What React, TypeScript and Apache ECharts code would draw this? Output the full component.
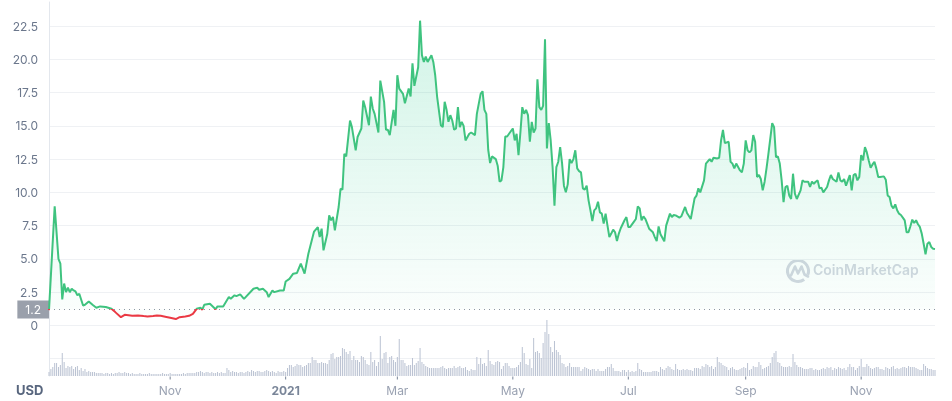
import React, { useEffect, useRef } from "react";
import * as echarts from "echarts";

// ---------- data ----------
const START_DATE = "2020-08-29";
const END_DAY = 468;
const BASELINE = 1.2;
const currencyLabel = "USD";
const watermarkText = "CoinMarketCap";

const tickDates = ["2020-11-01", "2021-01-01", "2021-03-01", "2021-05-01", "2021-07-01", "2021-09-01", "2021-11-01"];
const tickLabels = ["Nov", "2021", "Mar", "May", "Jul", "Sep", "Nov"];

// day offsets from START_DATE and price (USD)
const priceDays = [
  0, 3, 5, 6, 7, 8, 9, 10, 11, 12, 13, 14, 15, 16, 18, 19, 21, 23, 25, 27, 30, 33, 35, 38, 40, 44, 47, 50, 52, 55, 57, 59, 62, 64, 67, 69, 72, 74, 76, 78, 80, 81, 82, 85, 88, 89, 92, 95, 96, 98, 99,
  101, 103, 108, 110, 111, 113, 115, 116, 118, 119, 122, 124, 125, 127, 129, 131, 133, 135, 137, 140, 142, 143, 144, 145, 147, 148, 149, 150, 151, 153, 154, 155, 156, 157, 158, 159, 160, 162, 163, 165, 166, 167, 169, 170, 171, 172, 174, 175, 177, 178, 179, 180, 182, 183, 184, 185, 187, 188, 190, 191, 192, 193, 195, 196, 197, 198, 199,
  200, 202, 203, 204, 205, 207, 208, 209, 210, 211, 212, 213, 214, 215, 216, 217, 218, 219, 220, 222, 223, 225, 226, 228, 229, 230, 231, 232, 233, 234, 236, 237, 238, 239, 240, 241, 242, 243, 245, 246, 247, 248, 249, 250, 251, 252, 253, 254, 255, 256, 257, 258, 259, 260, 261, 262, 263, 264, 265, 266, 267, 268, 269, 270, 271, 272, 273, 274, 275, 276, 277, 278, 279, 280, 281, 282, 283, 284, 285, 286, 287, 288, 289, 290, 291, 292, 293, 294, 295, 296, 297, 298, 299,
  300, 301, 302, 304, 305, 306, 307, 309, 310, 311, 312, 313, 314, 315, 317, 319, 320, 321, 322, 323, 325, 326, 328, 329, 330, 331, 333, 334, 336, 337, 339, 341, 342, 343, 344, 346, 347, 349, 350, 351, 353, 354, 355, 356, 357, 359, 360, 361, 362, 363, 365, 366, 367, 368, 369, 370, 371, 372, 373, 374, 375, 376, 377, 378, 379, 380, 382, 383, 384, 385, 386, 387, 388, 389, 390, 391, 392, 393, 394, 395, 397, 398, 399,
  401, 402, 403, 404, 405, 406, 407, 408, 409, 411, 412, 413, 414, 416, 417, 418, 419, 420, 421, 423, 424, 425, 426, 427, 428, 429, 430, 431, 432, 433, 434, 435, 436, 437, 438, 439, 441, 442, 443, 444, 445, 446, 447, 448, 449, 450, 451, 452, 453, 454, 455, 456, 457, 458, 459, 460, 461, 462, 463, 464, 465, 466, 467, 468,
];
const priceValues = [
  1.15, 8.95, 5.0, 4.65, 1.95, 3.15, 2.5, 2.83, 2.5, 2.75, 2.63, 2.55, 2.26, 2.38, 1.5, 1.55, 1.8, 1.55, 1.33, 1.43, 1.38, 1.25, 1.0, 0.62, 0.8, 0.72, 0.75, 0.7, 0.68, 0.7, 0.74, 0.72, 0.64, 0.58, 0.48, 0.62, 0.67, 0.72, 0.87, 1.25, 1.33, 1.18, 1.55, 1.63, 1.22, 1.43, 1.43, 2.13, 2.0, 2.26, 2.2,
  2.33, 2.0, 2.76, 2.83, 2.68, 2.76, 2.5, 2.13, 2.63, 2.5, 2.63, 2.63, 3.3, 3.5, 3.89, 3.94, 4.64, 3.89, 5.39, 7.05, 7.39, 6.64, 7.27, 5.64, 6.89, 8.27, 7.9, 8.15, 7.14, 8.9, 10.27, 10.2, 12.9, 12.7, 14.04, 15.4, 14.9, 13.16, 14.16, 14.8, 16.9, 16.4, 15.04, 17.2, 16.3, 15.9, 14.5, 18.4, 16.8, 14.7, 14.7, 14.3, 16.2, 15.0, 18.8, 17.8, 17.4, 16.7, 17.8, 17.2, 19.7, 18.0, 19.4, 22.9, 20.3, 19.8, 20.2,
  19.8, 20.3, 19.8, 18.8, 17.2, 15.04, 14.9, 16.8, 16.2, 15.3, 15.8, 15.4, 14.7, 14.8, 16.4, 14.9, 15.3, 15.0, 13.9, 14.4, 14.5, 14.3, 15.9, 17.4, 17.6, 16.2, 15.9, 13.2, 12.2, 12.7, 12.5, 12.0, 10.8, 10.9, 11.9, 14.2, 14.2, 14.4, 14.8, 13.9, 14.4, 12.8, 14.5, 16.4, 15.9, 16.2, 15.8, 13.8, 15.3, 14.5, 14.8, 18.5, 16.4, 16.2, 16.5, 21.5, 13.3, 15.2, 13.9, 11.9, 9.0, 11.9, 12.3, 13.4, 12.2, 10.5, 10.0, 10.6, 12.5, 12.2, 12.5, 13.16, 11.8, 11.6, 11.5, 10.3, 10.2, 10.5, 9.4, 8.65, 7.84, 8.65, 8.8, 9.3, 8.5, 8.4, 7.65, 8.4, 7.5, 6.64, 6.9, 7.2, 7.0,
  6.34, 6.9, 7.3, 7.9, 8.14, 7.4, 7.4, 7.8, 8.0, 8.95, 8.8, 7.9, 8.2, 8.0, 7.27, 7.0, 6.64, 6.34, 7.44, 6.85, 6.32, 7.5, 8.4, 8.15, 8.3, 8.27, 8.1, 8.2, 8.9, 8.45, 8.0, 9.55, 9.75, 10.3, 10.0, 10.9, 12.16, 12.5, 12.3, 12.6, 12.55, 12.6, 13.9, 14.7, 13.7, 13.8, 12.3, 12.16, 11.8, 12.16, 11.65, 11.5, 12.16, 13.9, 13.16, 13.0, 13.16, 14.3, 13.8, 11.15, 11.3, 11.0, 10.15, 10.8, 11.8, 12.9, 15.2, 14.9, 12.65, 12.7, 12.16, 10.9, 9.27, 10.4, 10.5, 9.77, 9.5, 11.4, 9.9, 9.5, 10.15, 10.9, 10.8,
  10.8, 10.4, 10.8, 10.65, 10.8, 10.9, 10.3, 10.35, 10.0, 10.4, 10.9, 11.3, 11.0, 10.8, 11.5, 10.9, 10.8, 11.0, 10.5, 11.3, 10.15, 11.3, 11.4, 10.9, 11.15, 12.8, 12.4, 13.4, 13.0, 12.4, 11.85, 12.1, 12.3, 11.8, 11.15, 11.15, 11.2, 10.95, 9.77, 9.65, 9.0, 8.8, 9.1, 8.65, 8.4, 8.3, 8.1, 7.9, 7.0, 7.0, 7.45, 7.95, 7.7, 7.9, 7.6, 7.4, 6.9, 6.14, 5.34, 6.14, 6.26, 5.9, 5.77, 5.75,
];

// daily volume (relative units), one per day from START_DATE
const volumeValues = [
  4, 7, 9, 13, 13, 9, 11, 23, 14, 8, 10, 9, 10, 7, 9, 10, 6, 8, 5, 7, 4, 5, 4, 4, 4, 3, 3,
  3, 3, 2, 3, 3, 2, 3, 2, 3, 3, 4, 3, 3, 4, 3, 3, 2, 3, 2, 2, 2, 3, 2, 2, 2, 2, 3, 2, 2, 2, 2, 2, 2, 3, 2, 2, 2, 3,
  2, 2, 2, 2, 2, 2, 3, 2, 3, 3, 3, 3,
  3, 4, 4, 5, 4, 3, 4, 4, 3, 4, 3, 3, 4, 3, 4, 3, 3, 8, 6,
  4, 5, 4, 4, 3, 4, 4, 3, 4, 5, 4, 6, 5, 4, 5, 5, 4, 4, 5, 6, 5, 4, 5, 4, 3, 5, 4, 4, 5, 4,
  8, 11, 11, 9, 10, 12, 11,
  11, 9, 10, 11, 13, 13, 19, 16, 16, 13,
  13, 14, 13, 13, 12, 16, 22, 23, 17, 19,
  19, 20, 28, 27, 24, 22, 25, 16, 20, 16,
  16, 14, 20, 19, 16, 12, 11, 24, 14, 16,
  10, 14, 40, 17, 23, 24, 13, 19, 20, 16,
  14, 19, 37, 16, 16, 13, 10, 11, 11, 18,
  11, 13, 15, 28, 14, 12, 10, 9, 8, 8,
  8, 8, 8, 8, 9, 10, 8, 7, 8, 8,
  8, 10, 8, 9, 10, 8, 8, 9, 6, 5,
  7, 6, 6, 19, 12, 18, 12, 13, 10, 26,
  15, 12, 11, 14, 15, 14, 7, 10, 13, 13,
  10, 8, 8, 8, 9, 11, 14, 29, 23, 12,
  11, 17, 8, 38, 24, 25, 23, 18, 33, 44,
  56, 42, 29, 24, 35, 26, 24, 21, 13, 12,
  9, 10, 13, 9, 9, 9, 9, 9, 5, 7,
  9, 8, 7, 6, 7, 7, 5, 7, 5, 5,
  5, 7, 9, 9, 12, 8, 5, 5, 5, 4,
  6, 6, 4, 6,
  4, 5, 4, 5, 13, 7, 6, 4, 4, 4,
  4, 4, 5, 5, 5, 4, 9, 7, 6, 8,
  10, 9, 7, 6, 12, 7, 6, 6, 7, 6,
  7, 6, 6, 5, 8, 8, 8, 7, 10, 9,
  12, 11, 9, 10, 7, 9, 19, 14, 13, 11,
  10, 9, 6, 8, 9, 7, 6, 6, 7, 8,
  9, 8, 13, 6, 7, 10, 9, 9, 14, 11,
  7, 8, 9, 10, 13, 19, 23, 25, 14, 13,
  10, 9, 9, 9, 10, 9, 22, 14, 11, 9,
  9, 8, 7, 7, 7, 8, 8, 6, 7, 6,
  6, 7, 8, 7, 9, 8, 9, 6, 8, 7,
  9, 8, 7, 8, 6, 9, 12, 9, 9, 6,
  8, 10, 17, 9, 9, 12, 10, 8, 7, 8,
  9, 9, 7, 7, 6, 9, 8, 7, 9, 10,
  7, 8, 7, 8, 9, 9, 8, 10, 9, 9,
  9, 8, 7, 6, 6, 12, 10, 8, 7, 7,
  6, 6,
];

// ---------- styles ----------
const GREEN = "#3fc37f";
const RED = "#ea3943";
const LABEL_COLOR = "#6b778c";
const DARK_LABEL = "#58667e";
const GRID_COLOR = "#eff1f4";
const WATERMARK_COLOR = "#d3d7e0";
const FONT = "Inter, 'Noto Sans', sans-serif";

export default function App() {
  const ref = useRef<HTMLDivElement>(null);

  useEffect(() => {
    if (!ref.current) return;
    const chart = echarts.init(ref.current, undefined, { renderer: "svg" });
    const DAY_MS = 86400000;
    const start = Date.parse(START_DATE);
    const xMin = start;
    const xMax = start + END_DAY * DAY_MS;
    const priceData = priceDays.map((d, i) => [start + d * DAY_MS, priceValues[i]]);
    const volumeData = volumeValues.map((v, i) => [start + i * DAY_MS, v]);
    const tickData = tickDates.map((s) => [Date.parse(s), 0]);

    const option: any = {
      animation: false,
      textStyle: { fontFamily: FONT },
      grid: [
        { left: 49, right: 17, top: 26, bottom: 42.3 },
        { left: 49, right: 17, top: 320, bottom: 25 },
        { left: 49, right: 17, top: 2, bottom: 25 },
      ],
      xAxis: [
        { type: "value", gridIndex: 0, min: xMin, max: xMax, show: false },
        { type: "value", gridIndex: 1, min: xMin, max: xMax, show: false },
        { type: "value", gridIndex: 2, min: 0, max: 1, show: false },
      ],
      yAxis: [
        {
          type: "value",
          gridIndex: 0,
          min: -2.5,
          max: 22.5,
          interval: 2.5,
          axisLine: { show: false },
          axisTick: { show: false },
          axisLabel: {
            color: LABEL_COLOR,
            fontSize: 12,
            margin: 11,
            fontFamily: FONT,
            formatter: (v: number) => (v < 0 ? "" : v === 0 ? "0" : v.toFixed(1)),
          },
          splitLine: { lineStyle: { color: GRID_COLOR, width: 1 } },
        },
        { type: "value", gridIndex: 1, min: 0, max: "dataMax", show: false },
        {
          type: "value",
          gridIndex: 2,
          min: 0,
          max: 1,
          axisLine: { show: true, lineStyle: { color: "#e3e7ed" } },
          axisTick: { show: false },
          axisLabel: { show: false },
          splitLine: { show: false },
        },
      ],
      visualMap: {
        type: "piecewise",
        show: false,
        seriesIndex: 0,
        dimension: 1,
        pieces: [
          { gte: -100, lt: BASELINE, color: RED },
          { gte: BASELINE, lte: 100, color: GREEN },
        ],
      },
      series: [
        {
          type: "line",
          xAxisIndex: 0,
          yAxisIndex: 0,
          data: priceData,
          showSymbol: false,
          symbol: "none",
          clip: false,
          z: 5,
          lineStyle: { width: 2 },
          areaStyle: {
            origin: BASELINE,
            color: new echarts.graphic.LinearGradient(0, 0, 0, 1, [
              { offset: 0, color: "rgba(22,199,132,0.28)" },
              { offset: 1, color: "rgba(22,199,132,0.02)" },
            ]),
          },
          markLine: {
            silent: true,
            symbol: ["none", "none"],
            lineStyle: { color: "#8f96a3", type: [1, 4], width: 1 },
            label: {
              show: true,
              position: "start",
              formatter: "{c}",
              color: "#ffffff",
              backgroundColor: "#9aa0ab",
              padding: [3, 8, 3, 8],
              fontSize: 12,
              fontFamily: FONT,
              distance: 0,
            },
            data: [{ yAxis: BASELINE }],
          },
        },
        {
          type: "bar",
          xAxisIndex: 1,
          yAxisIndex: 1,
          data: volumeData,
          barWidth: 1,
          itemStyle: { color: "#bac2d2" },
          z: 2,
        },
        {
          type: "scatter",
          xAxisIndex: 1,
          yAxisIndex: 1,
          data: tickData,
          clip: false,
          silent: true,
          symbol: "rect",
          symbolSize: [1, 3],
          symbolOffset: [0, 2],
          itemStyle: { color: DARK_LABEL },
          label: {
            show: true,
            position: "bottom",
            distance: 5,
            color: "#808a9d",
            fontSize: 12,
            fontFamily: FONT,
            formatter: (p: any) => {
              const t = tickLabels[p.dataIndex];
              return /^\d{4}$/.test(t) ? `{b|${t}}` : t;
            },
            rich: { b: { fontWeight: "bold", color: DARK_LABEL, fontSize: 12, fontFamily: FONT } },
          },
          z: 3,
        },
      ],
      graphic: [
        {
          type: "text",
          left: 16,
          top: 383,
          style: { text: currencyLabel, fill: DARK_LABEL, font: `bold 13px ${FONT}` },
        },
        {
          type: "group",
          left: 785,
          top: 258,
          children: [
            {
              type: "arc",
              shape: { cx: 12, cy: 11.5, r: 10.5, startAngle: Math.PI * 0.3, endAngle: Math.PI * 2.12 },
              style: { stroke: WATERMARK_COLOR, lineWidth: 3, fill: "none" },
            },
            {
              type: "polyline",
              shape: { points: [[5, 16], [9, 7], [12, 14], [15.5, 7], [18.5, 15], [22, 17]] },
              style: { stroke: WATERMARK_COLOR, lineWidth: 2.6, fill: "none", lineJoin: "round", lineCap: "round" },
            },
          ],
        },
        {
          type: "text",
          left: 813,
          top: 262,
          style: { text: watermarkText, fill: WATERMARK_COLOR, font: `600 14px ${FONT}` },
        },
      ],
    };
    chart.setOption(option);
    return () => chart.dispose();
  }, []);

  return <div ref={ref} style={{ position: "fixed", left: 0, top: 0, width: 952, height: 401 }} />;
}
